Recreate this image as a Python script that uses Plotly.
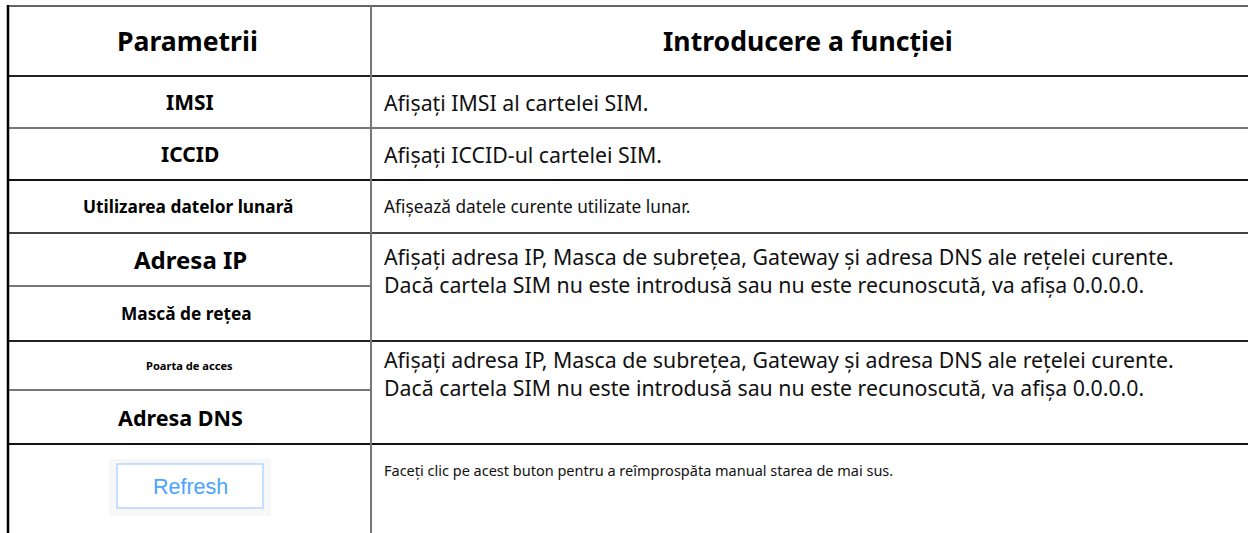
import plotly.graph_objects as go

# ---- data ----
header_left = "Parametrii"
header_right = "Introducere a funcției"
parameters = ["IMSI", "ICCID", "Utilizarea datelor lunară", "Adresa IP",
              "Mască de rețea", "Poarta de acces", "Adresa DNS"]
descriptions = [
    ["Afișați IMSI al cartelei SIM."],
    ["Afișați ICCID-ul cartelei SIM."],
    ["Afișează datele curente utilizate lunar."],
    ["Afișați adresa IP, Masca de subrețea, Gateway și adresa DNS ale rețelei curente.",
     "Dacă cartela SIM nu este introdusă sau nu este recunoscută, va afișa 0.0.0.0."],
    ["Afișați adresa IP, Masca de subrețea, Gateway și adresa DNS ale rețelei curente.",
     "Dacă cartela SIM nu este introdusă sau nu este recunoscută, va afișa 0.0.0.0."],
    ["Faceți clic pe acest buton pentru a reîmprospăta manual starea de mai sus."],
]
button_label = "Refresh"

# ---- layout constants (pixel-like coordinates) ----
W, H = 1248, 533
X_LEFT, X_DIV, X_RIGHT = 8, 371, 1248
row_lines = [6, 76, 128, 180, 233, 286, 341, 390, 444]
line_colors = ["#666", "#222", "#777", "#111", "#444", "#777", "#222", "#777", "#111"]
left_only = {286, 390}
param_x = [190, 190, 188, 190, 186, 189, 180]
param_y = [102, 154, 206, 259, 313, 365, 417]
param_size = [21, 21, 17.3, 24, 17.3, 11.1, 21.5]
desc_y = [102, 154, 206, 270.5, 373, 470]
desc_size = [21.3, 21.3, 17.3, 21.3, 21.3, 14.5]
FONT = "Noto Sans"

fig = go.Figure()
fig.add_trace(go.Scatter(x=[0, W], y=[0, H], mode="markers",
                         marker=dict(opacity=0), hoverinfo="skip", showlegend=False))

shapes = []
for yl, col in zip(row_lines, line_colors):
    x1 = X_DIV if yl in left_only else X_RIGHT
    shapes.append(dict(type="line", x0=X_LEFT, x1=x1, y0=yl, y1=yl,
                       line=dict(color=col, width=2), layer="above"))
shapes.append(dict(type="line", x0=X_DIV, x1=X_DIV, y0=row_lines[0], y1=H,
                   line=dict(color="#777", width=2)))
shapes.append(dict(type="line", x0=X_LEFT, x1=X_LEFT, y0=row_lines[0] - 1, y1=H,
                   line=dict(color="#000", width=2.5)))
# button
shapes.append(dict(type="rect", x0=109, x1=271, y0=459, y1=516,
                   fillcolor="#f7f7f8", line=dict(width=0), layer="below"))
shapes.append(dict(type="rect", x0=117, x1=263, y0=464, y1=508,
                   fillcolor="#ffffff", line=dict(color="#b3d8ff", width=1.5), layer="below"))

ann = []
cx_right = 808
ann.append(dict(x=187, y=41, text="<b>" + header_left + "</b>", showarrow=False,
                xanchor="center", yanchor="middle", font=dict(family=FONT, size=26.6, color="#000")))
ann.append(dict(x=cx_right, y=41, text="<b>" + header_right + "</b>", showarrow=False,
                xanchor="center", yanchor="middle", font=dict(family=FONT, size=26.6, color="#000")))
for name, xx, yy, sz in zip(parameters, param_x, param_y, param_size):
    ann.append(dict(x=xx, y=yy, text="<b>" + name + "</b>", showarrow=False,
                    xanchor="center", yanchor="middle", font=dict(family=FONT, size=sz, color="#000")))
for lines, yy, sz in zip(descriptions, desc_y, desc_size):
    ann.append(dict(x=382, y=yy, text="<br>".join(lines), showarrow=False, xanchor="left",
                    yanchor="middle", align="left",
                    font=dict(family=FONT, size=sz, color="#111")))
ann.append(dict(x=190, y=487, text=button_label, showarrow=False, xanchor="center", yanchor="middle",
                font=dict(family="Liberation Sans, Arial", size=21.5, color="#4aa3ff")))

fig.update_layout(
    width=W, height=H, margin=dict(l=0, r=0, t=0, b=0),
    paper_bgcolor="#ffffff", plot_bgcolor="#ffffff",
    xaxis=dict(range=[0, W], visible=False, fixedrange=True),
    yaxis=dict(range=[H, 0], visible=False, fixedrange=True),
    shapes=shapes, annotations=ann, showlegend=False,
)
fig.write_html("out.html", config={"displayModeBar": False},
               post_script="document.body.style.margin='0';document.body.style.overflow='hidden';")
